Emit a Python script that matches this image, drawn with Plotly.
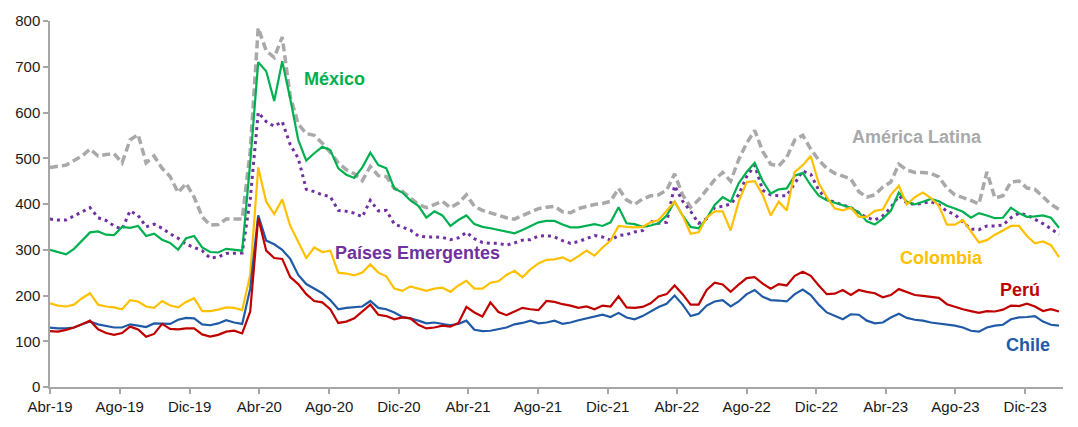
import pandas as pd
import plotly.graph_objects as go

# Fortnightly observations, Apr-2019 to Jan-2024 (basis points)
dates = pd.date_range("2019-04-01", periods=127, freq="14D")

latam = [
    480, 483, 485, 495, 505, 520, 505, 508, 510, 490,
    540, 552, 490, 505, 478, 460, 425, 445, 415, 372,
    354, 355, 367, 367, 367, 515, 785, 735, 720, 765,
    635, 575, 554, 550, 533, 513, 490, 475, 466, 451,
    482, 462, 460, 434, 428, 413, 399, 392, 399, 406,
    392, 402, 420, 395, 386, 380, 374, 370, 367, 374,
    381, 390, 393, 395, 383, 381, 390, 395, 399, 401,
    406, 434, 409, 399, 411, 418, 420, 430, 466, 420,
    393, 409, 432, 453, 469, 450, 497, 533, 561, 515,
    487, 483, 502, 540, 550, 520, 496, 478, 467, 460,
    455, 427, 415, 420, 437, 448, 487, 474, 469, 469,
    467, 459, 435, 420, 415, 408, 400, 470, 413, 418,
    448, 450, 435, 432, 416, 399, 388]

mexico = [
    300, 295, 290, 302, 320, 338, 340, 333, 332, 350,
    348, 352, 330, 335, 322, 315, 300, 325, 330, 305,
    295, 294, 302, 300, 298, 490, 710, 690, 625, 712,
    630, 540, 495, 511, 525, 518, 478, 464, 457, 480,
    512, 485, 478, 434, 425, 408, 396, 370, 384, 375,
    352, 365, 375, 356, 350, 347, 343, 340, 336, 343,
    352, 360, 363, 363, 355, 349, 349, 352, 356, 352,
    360, 393, 358, 356, 350, 353, 358, 375, 405, 375,
    350, 347, 368, 398, 415, 405, 445, 470, 490, 450,
    423, 432, 434, 462, 468, 441, 418, 408, 403, 398,
    392, 382, 362, 355, 368, 385, 425, 405, 399, 405,
    411, 406, 396, 390, 383, 370, 380, 375, 369, 370,
    392, 380, 372, 373, 375, 370, 348]

emergentes = [
    367, 365, 365, 374, 382, 392, 370, 364, 352, 345,
    385, 375, 350, 356, 347, 335, 325, 312, 305, 298,
    282, 284, 292, 293, 293, 410, 600, 580, 570, 580,
    530, 500, 432, 427, 420, 416, 386, 384, 380, 372,
    408, 385, 386, 356, 349, 343, 330, 328, 328, 327,
    322, 326, 338, 324, 316, 314, 314, 310, 315, 321,
    322, 330, 331, 328, 320, 314, 318, 325, 331, 328,
    321, 331, 333, 339, 342, 362, 358, 360, 440, 406,
    384, 358, 368, 392, 395, 400, 420, 460, 485, 430,
    420, 418, 418, 445, 472, 465, 430, 410, 404, 398,
    392, 381, 370, 365, 374, 392, 418, 402, 399, 402,
    405, 398, 384, 377, 360, 345, 344, 352, 352, 354,
    370, 380, 376, 367, 357, 346, 333]

colombia = [
    183, 178, 176, 180, 194, 205, 180, 176, 174, 170,
    190, 187, 176, 173, 188, 178, 174, 186, 194, 166,
    166, 169, 174, 173, 168, 245, 480, 405, 378, 410,
    352, 318, 282, 305, 295, 298, 250, 248, 244, 250,
    268, 250, 242, 215, 210, 220, 215, 210, 215, 217,
    208, 222, 232, 215, 215, 228, 231, 245, 254, 240,
    257, 270, 278, 279, 283, 275, 286, 298, 287, 305,
    320, 352, 350, 349, 350, 360, 365, 385, 405, 375,
    335, 338, 370, 384, 384, 342, 405, 448, 450, 420,
    375, 405, 386, 470, 485, 505, 445, 415, 390, 386,
    392, 372, 372, 385, 388, 420, 440, 399, 415, 425,
    413, 396, 355, 355, 365, 340, 316, 321, 333, 342,
    352, 352, 330, 314, 318, 310, 284]

peru = [
    122, 121, 125, 130, 137, 145, 126, 118, 114, 118,
    132, 126, 110, 116, 138, 127, 126, 128, 128, 115,
    110, 114, 121, 123, 117, 165, 370, 298, 282, 280,
    240, 225, 203, 188, 185, 170, 140, 143, 150, 165,
    180, 158, 155, 148, 152, 150, 136, 128, 130, 134,
    132, 140, 175, 163, 154, 185, 164, 157, 165, 173,
    170, 168, 188, 186, 181, 178, 173, 176, 170, 178,
    176, 198, 174, 173, 175, 183, 198, 203, 222, 203,
    180, 180, 212, 228, 224, 208, 224, 238, 240, 226,
    215, 225, 222, 243, 252, 243, 222, 203, 204, 212,
    201, 212, 208, 205, 196, 201, 214, 208, 201, 199,
    197, 195, 181, 175, 170, 166, 162, 166, 165, 169,
    178, 177, 182, 176, 166, 170, 165]

chile = [
    130, 128, 128, 130, 137, 143, 137, 134, 130, 130,
    137, 134, 131, 139, 139, 138, 147, 151, 150, 137,
    135, 139, 146, 141, 138, 215, 375, 320, 312, 300,
    280, 245, 225, 215, 205, 190, 170, 173, 174, 176,
    188, 173, 170, 163, 153, 150, 145, 139, 141, 138,
    135, 138, 145, 125, 122, 123, 126, 130, 137, 140,
    145, 139, 141, 145, 138, 141, 146, 150, 155, 158,
    153, 162, 152, 148, 155, 165, 175, 182, 200, 180,
    155, 160, 178, 187, 190, 176, 187, 203, 212, 197,
    190, 189, 187, 203, 213, 201, 180, 163, 155, 148,
    159, 158, 145, 139, 141, 152, 160, 151, 147, 145,
    141, 139, 137, 134, 130, 123, 121, 130, 134, 136,
    148, 152, 153, 155, 143, 136, 134]

tick_dates = ["2019-04-01", "2019-08-01", "2019-12-01", "2020-04-01", "2020-08-01",
              "2020-12-01", "2021-04-01", "2021-08-01", "2021-12-01", "2022-04-01",
              "2022-08-01", "2022-12-01", "2023-04-01", "2023-08-01", "2023-12-01"]
tick_labels = ["Abr-19", "Ago-19", "Dic-19", "Abr-20", "Ago-20", "Dic-20", "Abr-21",
               "Ago-21", "Dic-21", "Abr-22", "Ago-22", "Dic-22", "Abr-23", "Ago-23", "Dic-23"]

GRAY = "#a9a9a9"
GREEN = "#00b050"
PURPLE = "#7030a0"
GOLD = "#ffc000"
RED = "#c00000"
BLUE = "#1f5aa6"

fig = go.Figure()
series = [
    ("América Latina", latam, GRAY, 3.5, "8px,4px"),
    ("Países Emergentes", emergentes, PURPLE, 3, "3px,4px"),
    ("México", mexico, GREEN, 2.2, "solid"),
    ("Colombia", colombia, GOLD, 2.2, "solid"),
    ("Chile", chile, BLUE, 2.2, "solid"),
    ("Perú", peru, RED, 2.2, "solid"),
]
for name, vals, color, width, dash in series:
    fig.add_trace(go.Scatter(x=dates, y=vals, name=name, mode="lines",
                             line=dict(color=color, width=width, dash=dash)))

labels = [
    ("México", GREEN, 0.281, 0.841),
    ("América Latina", GRAY, 0.856, 0.683),
    ("Países Emergentes", PURPLE, 0.363, 0.366),
    ("Colombia", GOLD, 0.880, 0.352),
    ("Perú", RED, 0.958, 0.265),
    ("Chile", BLUE, 0.965, 0.116),
]
for text, color, xp, yp in labels:
    fig.add_annotation(text=f"<b>{text}</b>", xref="paper", yref="paper", x=xp, y=yp,
                       xanchor="center", yanchor="middle", showarrow=False,
                       font=dict(family="Liberation Sans, Arial, sans-serif", size=18, color=color))

axis_style = dict(showline=True, linecolor="#a6a6a6", linewidth=1.5, ticks="outside",
                  ticklen=5, tickcolor="#a6a6a6", tickwidth=1.5, showgrid=False, zeroline=False,
                  tickfont=dict(family="Liberation Sans, Arial, sans-serif", size=15, color="#1a1a1a"))

fig.update_xaxes(type="date", range=["2019-04-01", "2024-02-05"],
                 tickmode="array", tickvals=tick_dates, ticktext=tick_labels, **axis_style)
fig.update_yaxes(range=[0, 800], tickmode="array", tickvals=list(range(0, 801, 100)),
                 **axis_style)

fig.update_layout(width=1078, height=427, margin=dict(l=50, r=15, t=17, b=32),
                  plot_bgcolor="white", paper_bgcolor="white", showlegend=False)

fig.write_html("out.html")
